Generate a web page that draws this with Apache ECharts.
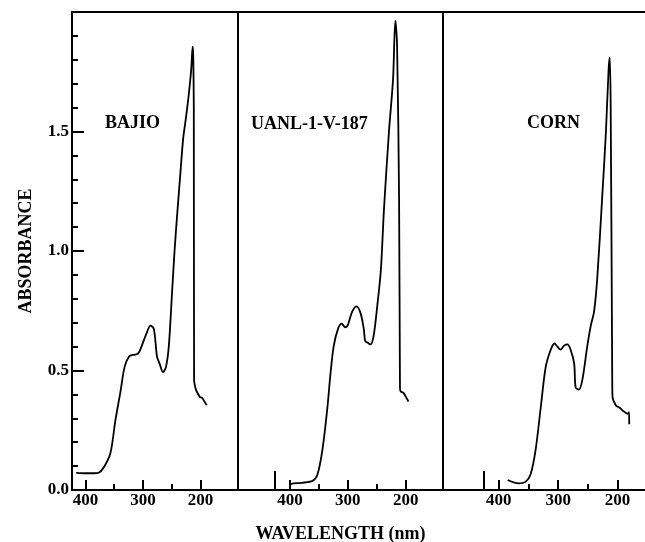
<!DOCTYPE html>
<html>
<head>
<meta charset="utf-8">
<script src="https://cdn.jsdelivr.net/npm/echarts@6/dist/echarts.min.js"></script>
<style>
  html, body { margin: 0; padding: 0; background: #fff; }
  #chart { width: 645px; height: 542px; }
</style>
</head>
<body>
<div id="chart"></div>
<script>
// sample names shown in each panel
const sampleNames = ['BAJIO', 'UANL-1-V-187', 'CORN'];

// BAJIO spectrum (wavelength nm / absorbance)
const bajioWl  = [416, 400, 385, 377, 368, 356.5, 348, 339, 332, 324.5, 318, 313, 307, 299, 293, 287, 281, 275.5, 271, 265, 260, 255, 249.5, 245, 240.5, 235, 230, 225, 220, 216, 213.5, 212.5, 211.5, 211, 209, 206, 201, 197, 193, 189];
const bajioAbs = [0.072, 0.07, 0.07, 0.072, 0.095, 0.155, 0.29, 0.413, 0.514, 0.558, 0.565, 0.566, 0.575, 0.623, 0.66, 0.688, 0.674, 0.558, 0.529, 0.493, 0.514, 0.601, 0.819, 1.0, 1.15, 1.32, 1.47, 1.56, 1.66, 1.76, 1.855, 1.82, 1.6, 0.46, 0.43, 0.41, 0.39, 0.385, 0.37, 0.355];

// UANL-1-V-187 spectrum
const uanlWl  = [400, 398, 380, 361, 352.5, 344, 335.5, 330, 324.5, 317, 310.5, 305, 300.5, 292.5, 285, 278, 272.5, 270, 265.5, 261, 255.5, 249, 243, 237.5, 229, 222, 218, 215, 211.5, 210, 209, 204, 198.5, 195.5];
const uanlAbs = [0.01, 0.025, 0.03, 0.038, 0.065, 0.167, 0.341, 0.486, 0.601, 0.674, 0.696, 0.681, 0.688, 0.746, 0.768, 0.739, 0.674, 0.623, 0.616, 0.609, 0.645, 0.775, 0.92, 1.18, 1.5, 1.717, 1.964, 1.862, 1.2, 0.43, 0.413, 0.406, 0.384, 0.37];

// CORN spectrum
const cornWl  = [385, 375, 366, 355, 346.5, 338, 329.5, 321, 312.5, 306, 301.5, 296, 290, 284.5, 279, 273, 270.5, 265, 259, 251, 245, 239.5, 234, 225.5, 219.5, 215, 213, 211.5, 209, 208.5, 203, 197, 191.5, 183, 180.5, 180.3];
const cornAbs = [0.042, 0.032, 0.028, 0.034, 0.065, 0.167, 0.341, 0.514, 0.587, 0.613, 0.601, 0.587, 0.604, 0.609, 0.587, 0.529, 0.428, 0.42, 0.464, 0.601, 0.688, 0.746, 0.891, 1.239, 1.5, 1.761, 1.81, 1.6, 0.5, 0.391, 0.355, 0.345, 0.333, 0.319, 0.326, 0.275];

// axis ticks
const xLabelTicks = [400, 300, 200];
const xMinorTicks = [350, 250];
const xStartMark  = [426];
const yLabelTicks = [0, 0.5, 1.0, 1.5];
const yMajorTicks = [0.5, 1.0, 1.5];
const yMinorTicks = [0.1, 0.2, 0.3, 0.4, 0.6, 0.7, 0.8, 0.9, 1.1, 1.2, 1.3, 1.4, 1.6, 1.7, 1.8, 1.9];

// x range of each panel (nm), reversed axis
const panelMin = [134.6, 135.7, 147];
const panelMax = [423.4, 489.7, 493.9];
const Y_MAX = 2.0;

const FONT = "'Liberation Serif', 'Times New Roman', serif";

function pairs(xs, ys)
{
	return xs.map((x, i) => [x, ys[i]]);
}

const spectra = [pairs(bajioWl, bajioAbs), pairs(uanlWl, uanlAbs), pairs(cornWl, cornAbs)];

let grids = [
	{left: 72, width: 166, top: 12, bottom: 52},
	{left: 238, width: 205, top: 12, bottom: 52},
	{left: 443, width: 206, top: 12, bottom: 52}
].map(g => Object.assign(g, {
	show: true, borderColor: '#000', borderWidth: 2, backgroundColor: 'transparent',
	containLabel: false, outerBoundsMode: 'none'
}));
const plotHeight = 542 - 12 - 52;

let xAxes = [], yAxes = [], series = [];

// an axis that only draws ticks (inside) at the given values
function tickOnly(base, values, length)
{
	return Object.assign({}, base, {
		axisTick: {show: true, inside: true, length: length, lineStyle: {color: '#000', width: 2}, customValues: values},
		axisLabel: {show: false}
	});
}

// the long ticks under the labels would not show up as axis ticks here,
// so they go in as short markLine strokes in data units
function majorTickLines(i)
{
	let xLen = 10 / plotHeight * Y_MAX;
	let lines = xLabelTicks.map(v => [{coord: [v, 0]}, {coord: [v, xLen]}]);
	if(i === 0)
	{
		let yLen = 12 / grids[0].width * (panelMax[0] - panelMin[0]);
		yMajorTicks.forEach(v => lines.push([{coord: [panelMax[0], v]}, {coord: [panelMax[0] - yLen, v]}]));
	}
	return {
		silent: true,
		animation: false,
		symbol: ['none', 'none'],
		label: {show: false},
		lineStyle: {color: '#000', width: 2, type: 'solid'},
		data: lines
	};
}

spectra.forEach((data, i) => {
	let base = {
		gridIndex: i, type: 'value', position: 'bottom', offset: 0,
		min: panelMin[i], max: panelMax[i], inverse: true,
		axisLine: {show: false}, splitLine: {show: false}
	};
	let mainIdx = xAxes.length;
	xAxes.push(Object.assign({}, base, {
		axisTick: {show: false},
		axisLabel: {customValues: xLabelTicks, color: '#000', fontFamily: FONT, fontWeight: 'bold', fontSize: 17, margin: 2},
		name: i === 1 ? 'WAVELENGTH (nm)' : '',
		nameLocation: 'middle',
		nameGap: 35,
		nameTextStyle: {color: '#000', fontFamily: FONT, fontWeight: 'bold', fontSize: 18}
	}));
	xAxes.push(tickOnly(base, xMinorTicks, 6));
	if(i > 0)
		xAxes.push(tickOnly(base, xStartMark, 19));

	let yBase = {gridIndex: i, type: 'value', position: 'left', offset: 0, min: 0, max: Y_MAX, axisLine: {show: false}, splitLine: {show: false}};
	let yIdx = yAxes.length;
	if(i === 0)
	{
		yAxes.push(Object.assign({}, yBase, {
			axisTick: {show: false},
			axisLabel: {
				customValues: yLabelTicks, color: '#000', fontFamily: FONT, fontWeight: 'bold', fontSize: 17,
				margin: 3, padding: [0, 0, 10, 0],
				formatter: v => v.toFixed(1)
			},
			name: 'ABSORBANCE',
			nameLocation: 'middle',
			nameRotate: 90,
			nameGap: 37,
			nameTextStyle: {color: '#000', fontFamily: FONT, fontWeight: 'bold', fontSize: 18}
		}));
		yAxes.push(tickOnly(yBase, yMinorTicks, 6));
	}
	else
	{
		yAxes.push(Object.assign({}, yBase, {axisTick: {show: false}, axisLabel: {show: false}}));
	}

	series.push({
		type: 'line',
		name: sampleNames[i],
		xAxisIndex: mainIdx,
		yAxisIndex: yIdx,
		data: data,
		showSymbol: false,
		smooth: 0.3,
		lineStyle: {color: '#000', width: 1.8},
		markLine: majorTickLines(i),
		animation: false
	});
});

// panel captions
let titles = [
	{text: sampleNames[0], left: 105, top: 114},
	{text: sampleNames[1], left: 251, top: 115},
	{text: sampleNames[2], left: 527, top: 114}
].map(t => Object.assign(t, {padding: 0, textStyle: {color: '#000', fontFamily: FONT, fontWeight: 'bold', fontSize: 18}}));

let chart = echarts.init(document.getElementById('chart'), null, {renderer: 'canvas'});
chart.setOption({
	animation: false,
	backgroundColor: '#fff',
	title: titles,
	grid: grids,
	xAxis: xAxes,
	yAxis: yAxes,
	series: series
});
</script>
</body>
</html>
